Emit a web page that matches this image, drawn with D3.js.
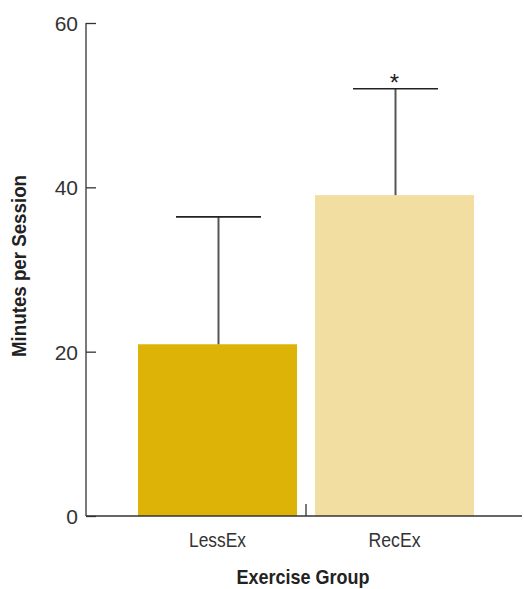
<!DOCTYPE html>
<html><head><meta charset="utf-8">
<script src="https://cdn.jsdelivr.net/npm/d3@7"></script>
<style>
html,body{margin:0;padding:0;background:#fff;}
svg text{font-family:"Liberation Sans","Arial",sans-serif;}
</style></head>
<body><svg id="c" width="524" height="589"></svg>
<script>
const categories = ["LessEx", "RecEx"];
const means = [20.9, 39.05];
const upperErr = [36.4, 52.0];
const significance = ["", "*"];
const yTicks = [0, 20, 40, 60];
const colors = ["#DDB307", "#F1DEA0"];

const svg = d3.select("#c");
const y = d3.scaleLinear().domain([0, 60]).range([516, 23]);
const x = d3.scaleBand().domain(categories).range([129, 483]).paddingInner(0.1017).paddingOuter(0.0508);

// bars
svg.selectAll("rect.bar").data(categories).enter().append("rect")
  .attr("x", d => x(d)).attr("width", x.bandwidth())
  .attr("y", (d,i) => y(means[i])).attr("height", (d,i) => y(0) - y(means[i]))
  .attr("fill", (d,i) => colors[i]);

// error bars
const capW = 85;
categories.forEach((c,i) => {
  const cx = x(c) + x.bandwidth()/2 + 1;
  svg.append("line").attr("x1", cx).attr("x2", cx).attr("y1", y(means[i])).attr("y2", y(upperErr[i]))
    .attr("stroke", "#555").attr("stroke-width", 2);
  svg.append("line").attr("x1", cx - capW/2).attr("x2", cx + capW/2).attr("y1", y(upperErr[i])).attr("y2", y(upperErr[i]))
    .attr("stroke", "#222").attr("stroke-width", 1.6);
  if (significance[i]) {
    svg.append("text").attr("x", cx - 1).attr("y", y(upperErr[i]) + 2).attr("text-anchor", "middle")
      .attr("font-size", 24).attr("fill", "#222").text(significance[i]);
  }
});

// y axis
const yAxis = d3.axisRight(y).tickValues(yTicks).tickSize(10).tickFormat(d3.format("d"));
const ga = svg.append("g").attr("transform", "translate(86,0)").call(yAxis);
ga.select(".domain").remove();
ga.selectAll(".tick line").attr("stroke", "#333").attr("stroke-width", 1.3);
ga.selectAll(".tick text").attr("x", -8).attr("text-anchor", "end").attr("font-size", 21).attr("fill", "#333")
  .attr("font-family", "'Liberation Sans',sans-serif").attr("dy", "0.35em");
svg.append("line").attr("x1", 86).attr("x2", 86).attr("y1", y(60)).attr("y2", y(0)).attr("stroke", "#333").attr("stroke-width", 1.3);

// x axis
svg.append("line").attr("x1", 86).attr("x2", 522).attr("y1", y(0)).attr("y2", y(0)).attr("stroke", "#333").attr("stroke-width", 1.5);
const midX = (x(categories[0]) + x.bandwidth() + x(categories[1])) / 2;
svg.append("line").attr("x1", midX).attr("x2", midX).attr("y1", y(0) - 12).attr("y2", y(0)).attr("stroke", "#333").attr("stroke-width", 1.3);
const xAxis = d3.axisBottom(x).tickSize(0).tickPadding(16);
const gx = svg.append("g").attr("transform", `translate(0,${y(0)})`).call(xAxis);
gx.select(".domain").remove();
const labelW = {"LessEx": 57, "RecEx": 52};
gx.selectAll(".tick text").attr("font-size", 21).attr("fill", "#333").attr("font-family", "'Liberation Sans',sans-serif")
  .attr("textLength", d => labelW[d]).attr("lengthAdjust", "spacingAndGlyphs");

// titles
svg.append("text").attr("x", 303).attr("y", 584).attr("text-anchor", "middle")
  .attr("font-size", 21).attr("font-weight", "bold").attr("fill", "#222")
  .attr("textLength", 133).attr("lengthAdjust", "spacingAndGlyphs").text("Exercise Group");
svg.append("text").attr("transform", "translate(26,266) rotate(-90)").attr("text-anchor", "middle")
  .attr("font-size", 21).attr("font-weight", "bold").attr("fill", "#222")
  .attr("textLength", 182).attr("lengthAdjust", "spacingAndGlyphs").text("Minutes per Session");
</script></body></html>
